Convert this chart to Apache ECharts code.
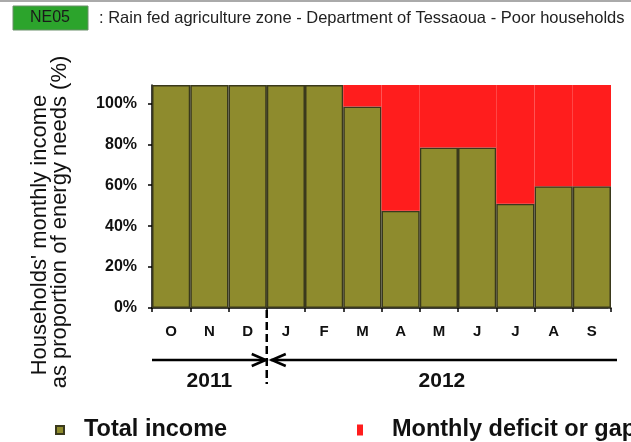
<!DOCTYPE html>
<html>
<head>
<meta charset="utf-8">
<script src="https://cdn.jsdelivr.net/npm/echarts@6/dist/echarts.min.js"></script>
<style>
  html, body { margin: 0; padding: 0; background: #fff; }
  #chart { width: 631px; height: 442px; }
</style>
</head>
<body>
<div id="chart"></div>
<script>
// month initials, Oct 2011 -> Sep 2012
const months = ["O", "N", "D", "J", "F", "M", "A", "M", "J", "J", "A", "S"];
// income as % of energy needs (olive part)
const totalIncome = [109, 109, 109, 109, 109, 98.5, 47.5, 78.5, 78.5, 51, 59.5, 59.5];
// deficit stacked on top (red part)
const monthlyGap = [0, 0, 0, 0, 0, 10.5, 61.5, 30.5, 30.5, 58, 49.5, 49.5];
const yearLabels = ["2011", "2012"];
const zoneCode = "NE05";
const zoneTitle = ": Rain fed agriculture zone - Department of Tessaoua - Poor households";
const yTitle = ["Households' monthly income", "as proportion of energy needs (%)"];

const FONT = "'Liberation Sans', Arial, sans-serif";
const OLIVE = "#8e8b2d";
const RED = "#ff1d1d";

const chart = echarts.init(document.getElementById("chart"));

const option = {
  animation: false,
  grid: { left: 152, right: 20, top: 85, bottom: 134 },
  legend: [
    {
      data: ["Total income"],
      left: 55,
      top: 418,
      padding: 0,
      itemWidth: 8,
      itemHeight: 8,
      icon: "rect",
      textStyle: { fontFamily: FONT, fontWeight: "bold", fontSize: 23.5, color: "#111", padding: [0, 0, 0, 15] },
    },
    {
      data: ["Monthly deficit or gap"],
      left: 357,
      top: 418,
      padding: 0,
      width: 600,
      itemWidth: 6,
      itemHeight: 11,
      icon: "rect",
      textStyle: { fontFamily: FONT, fontWeight: "bold", fontSize: 23.5, color: "#111", padding: [0, 0, 0, 24] },
    },
  ],
  xAxis: {
    type: "category",
    data: months,
    axisLine: { lineStyle: { color: "#000", width: 1.5 } },
    axisTick: { show: true, length: 4, lineStyle: { color: "#000", width: 1.5 } },
    axisLabel: { fontFamily: FONT, fontWeight: "bold", fontSize: 15, color: "#111", margin: 16 },
  },
  yAxis: [
    {
      type: "value",
      min: 0,
      max: 109,
      interval: 20,
      axisLine: { show: true, lineStyle: { color: "#000", width: 1.5 } },
      axisTick: { show: true, length: 4, lineStyle: { color: "#000", width: 1.5 } },
      axisLabel: {
        fontFamily: FONT,
        fontWeight: "bold",
        fontSize: 16,
        color: "#111",
        margin: 15,
        showMaxLabel: false,
        formatter: "{value}%",
      },
      splitLine: { show: false },
    },
    {
      type: "value",
      position: "right",
      min: 0,
      max: 109,
      interval: 20,
      axisLine: { show: false },
      axisTick: { show: true, inside: true, length: 3, lineStyle: { color: "#555" } },
      axisLabel: { show: false },
      splitLine: { show: false },
    },
  ],
  series: [
    {
      name: "Total income",
      type: "bar",
      stack: "total",
      barCategoryGap: "0%",
      itemStyle: { color: OLIVE, borderColor: "#3a391c", borderWidth: 1.5 },
      data: totalIncome,
    },
    {
      name: "Monthly deficit or gap",
      type: "bar",
      stack: "total",
      barCategoryGap: "0%",
      itemStyle: { color: RED },
      data: monthlyGap,
    },
  ],
};
chart.setOption(option);

// year markers below the axis, placed from the axis scale
const xOf = (i) => chart.convertToPixel({ xAxisIndex: 0 }, i);
const band = xOf(1) - xOf(0);
const leftX = xOf(0) - band / 2;
const rightX = xOf(months.length - 1) + band / 2 + 6;
const splitX = (xOf(2) + xOf(3)) / 2;
const baseY = chart.convertToPixel({ yAxisIndex: 0 }, 0);
const topY = chart.convertToPixel({ yAxisIndex: 0 }, 109);
const arrowY = baseY + 52;
const yearY = baseY + 73;

chart.setOption({
  graphic: [
    { type: "line", shape: { x1: 0, y1: 1, x2: 631, y2: 1 }, style: { stroke: "#aaa", lineWidth: 2 } },
    {
      type: "rect",
      shape: { x: 13, y: 6, width: 75, height: 24 },
      style: { fill: "#2ca42c", stroke: "#6b8f6b", lineWidth: 1 },
    },
    {
      type: "text",
      x: 50, y: 18,
      style: { text: zoneCode, font: "16px " + FONT, fill: "#1a1a1a", align: "center", verticalAlign: "middle" },
    },
    {
      type: "text",
      x: 99, y: 18,
      style: { text: zoneTitle, font: "16.5px " + FONT, fill: "#222", align: "left", verticalAlign: "middle" },
    },
    {
      type: "text",
      x: 40, y: 235, rotation: Math.PI / 2,
      style: { text: yTitle[0], font: "22px " + FONT, fill: "#111", align: "center", verticalAlign: "middle" },
    },
    {
      type: "text",
      x: 60, y: 222, rotation: Math.PI / 2,
      style: { text: yTitle[1], font: "22px " + FONT, fill: "#111", align: "center", verticalAlign: "middle" },
    },
    // darker seam at the year boundary inside the plot
    {
      type: "line",
      shape: { x1: splitX, y1: topY, x2: splitX, y2: baseY },
      style: { stroke: "rgba(40,40,20,0.55)", lineWidth: 3 },
    },
    {
      type: "line",
      shape: { x1: splitX, y1: baseY + 2, x2: splitX, y2: baseY + 76 },
      style: { stroke: "#000", lineWidth: 2.5, lineDash: [8, 4] },
    },
    {
      type: "line",
      shape: { x1: leftX, y1: arrowY, x2: splitX, y2: arrowY },
      style: { stroke: "#000", lineWidth: 2.5 },
    },
    {
      type: "polyline",
      shape: { points: [[splitX - 15, arrowY - 6], [splitX - 1, arrowY], [splitX - 15, arrowY + 6]] },
      style: { stroke: "#000", lineWidth: 2.5, fill: null },
    },
    {
      type: "line",
      shape: { x1: splitX + 4, y1: arrowY, x2: rightX, y2: arrowY },
      style: { stroke: "#000", lineWidth: 2.5 },
    },
    {
      type: "polyline",
      shape: { points: [[splitX + 19, arrowY - 6], [splitX + 5, arrowY], [splitX + 19, arrowY + 6]] },
      style: { stroke: "#000", lineWidth: 2.5, fill: null },
    },
    {
      type: "text",
      x: (leftX + splitX) / 2, y: yearY,
      style: { text: yearLabels[0], font: "bold 21px " + FONT, fill: "#111", align: "center", verticalAlign: "middle" },
    },
    {
      type: "text",
      x: (splitX + rightX) / 2, y: yearY,
      style: { text: yearLabels[1], font: "bold 21px " + FONT, fill: "#111", align: "center", verticalAlign: "middle" },
    },
  ],
});
</script>
</body>
</html>
